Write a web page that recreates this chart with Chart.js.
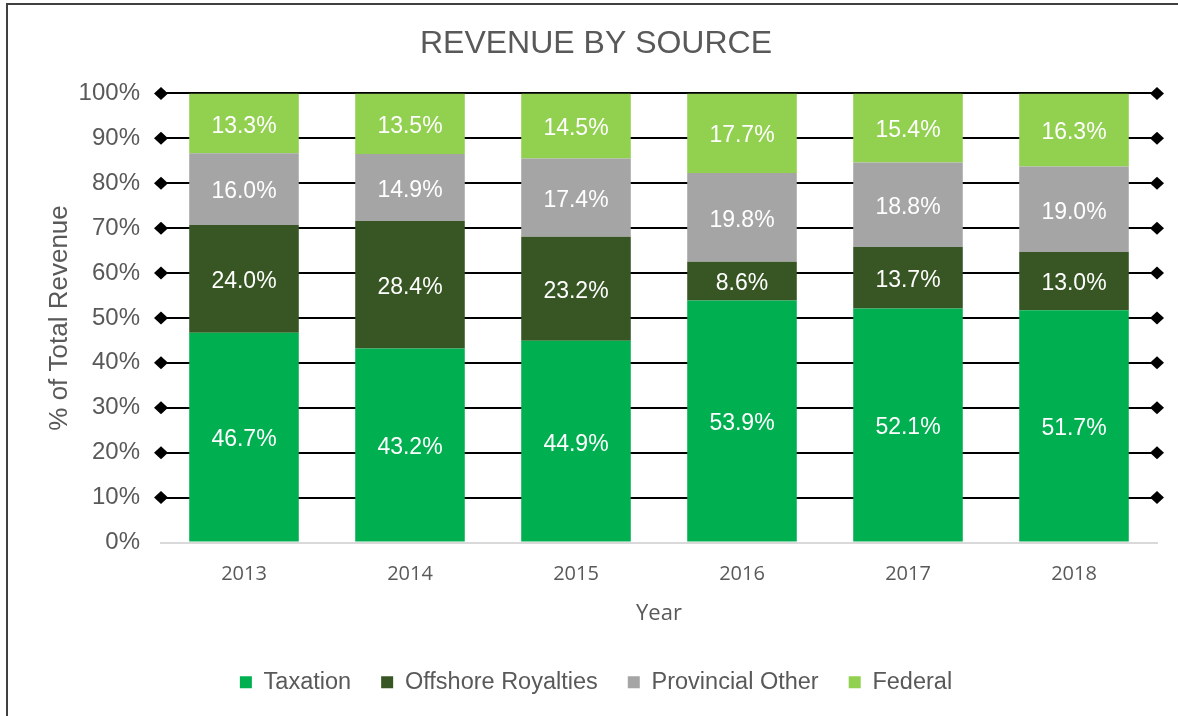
<!DOCTYPE html>
<html>
<head>
<meta charset="utf-8">
<script src="https://cdn.jsdelivr.net/npm/chart.js@4.4.1/dist/chart.umd.min.js"></script>
<style>
  html, body { margin: 0; padding: 0; background: #ffffff; overflow: hidden; }
  #wrap { position: absolute; left: 0; top: 0; width: 1178px; height: 716px; }
  #frame { position: absolute; left: 6px; top: 3px; width: 1200px; height: 800px;
           border-top: 2px solid #404040; border-left: 2px solid #404040; box-sizing: border-box; pointer-events: none; }
</style>
</head>
<body>
<div id="wrap"><canvas id="c" width="1178" height="716"></canvas></div>
<div id="frame"></div>
<script>
const years = ['2013', '2014', '2015', '2016', '2017', '2018'];
const taxation = [46.7, 43.2, 44.9, 53.9, 52.1, 51.7];
const offshoreRoyalties = [24.0, 28.4, 23.2, 8.6, 13.7, 13.0];
const provincialOther = [16.0, 14.9, 17.4, 19.8, 18.8, 19.0];
const federal = [13.3, 13.5, 14.5, 17.7, 15.4, 16.3];
const yTicks = [0, 10, 20, 30, 40, 50, 60, 70, 80, 90, 100];

const GREY = '#595959';
const SANS = '"Liberation Sans", Arial, sans-serif';

const barLabels = {
  id: 'barLabels',
  afterDatasetsDraw(chart) {
    const ctx = chart.ctx;
    ctx.save();
    ctx.fillStyle = '#ffffff';
    ctx.font = '23px ' + SANS;
    ctx.textAlign = 'center';
    ctx.textBaseline = 'middle';
    chart.data.datasets.forEach((ds, di) => {
      const meta = chart.getDatasetMeta(di);
      meta.data.forEach((el, i) => {
        const p = el.getProps(['x', 'y', 'base'], true);
        ctx.fillText(ds.data[i].toFixed(1) + '%', p.x, (p.y + p.base) / 2 + 3);
      });
    });
    ctx.restore();
  }
};

const gridDiamonds = {
  id: 'gridDiamonds',
  afterDraw(chart) {
    const ctx = chart.ctx;
    const y = chart.scales.y;
    const a = chart.chartArea;
    ctx.save();
    ctx.fillStyle = '#000000';
    yTicks.forEach(v => {
      if (v === 0) return;
      const py = y.getPixelForValue(v);
      [a.left, a.right].forEach(px => {
        ctx.beginPath();
        ctx.moveTo(px - 7, py);
        ctx.lineTo(px, py - 6.5);
        ctx.lineTo(px + 7, py);
        ctx.lineTo(px, py + 6.5);
        ctx.closePath();
        ctx.fill();
      });
    });
    ctx.restore();
  }
};

new Chart(document.getElementById('c'), {
  type: 'bar',
  data: {
    labels: years,
    datasets: [
      { label: 'Taxation', data: taxation, backgroundColor: '#00b050' },
      { label: 'Offshore Royalties', data: offshoreRoyalties, backgroundColor: '#375623' },
      { label: 'Provincial Other', data: provincialOther, backgroundColor: '#a5a5a5' },
      { label: 'Federal', data: federal, backgroundColor: '#92d050' }
    ]
  },
  options: {
    responsive: false,
    animation: false,
    devicePixelRatio: 1,
    layout: { padding: { left: 35, right: 21, top: 0, bottom: 12 } },
    datasets: { bar: { categoryPercentage: 1.0, barPercentage: 0.66, borderWidth: 0 } },
    plugins: {
      title: {
        display: true,
        text: 'REVENUE BY SOURCE',
        color: GREY,
        font: { family: SANS, size: 32, weight: 'normal' },
        padding: { top: 25, bottom: 30 }
      },
      legend: {
        position: 'bottom',
        labels: {
          color: GREY,
          boxWidth: 12,
          boxHeight: 12,
          padding: 30,
          font: { family: SANS, size: 23.5 }
        }
      },
      tooltip: { enabled: false }
    },
    scales: {
      x: {
        stacked: true,
        afterFit(scale) { scale.height = 98; },
        grid: { display: false, drawTicks: false },
        border: { display: true, color: '#d9d9d9', width: 2 },
        ticks: { color: GREY, padding: 20, font: { family: '"Open Sans", sans-serif', size: 20 } },
        title: { display: true, text: 'Year', color: GREY, padding: { top: 0, bottom: 14 },
                 font: { family: '"Open Sans", sans-serif', size: 22 } }
      },
      y: {
        stacked: true,
        min: 0,
        max: 100,
        afterFit(scale) { scale.width = 126; },
        afterBuildTicks(scale) { scale.ticks = yTicks.map(v => ({ value: v })); },
        grid: {
          drawTicks: false,
          color: ctx => (ctx.tick && ctx.tick.value === 0) ? '#d9d9d9' : '#000000',
          lineWidth: 2
        },
        border: { display: false },
        ticks: {
          color: GREY,
          padding: 21,
          font: { family: SANS, size: 24 },
          callback: v => v + '%'
        },
        title: { display: true, text: '% of Total Revenue', color: GREY, padding: { top: 9, bottom: 0 },
                 font: { family: SANS, size: 26 } }
      }
    }
  },
  plugins: [barLabels, gridDiamonds]
});
</script>
</body>
</html>
